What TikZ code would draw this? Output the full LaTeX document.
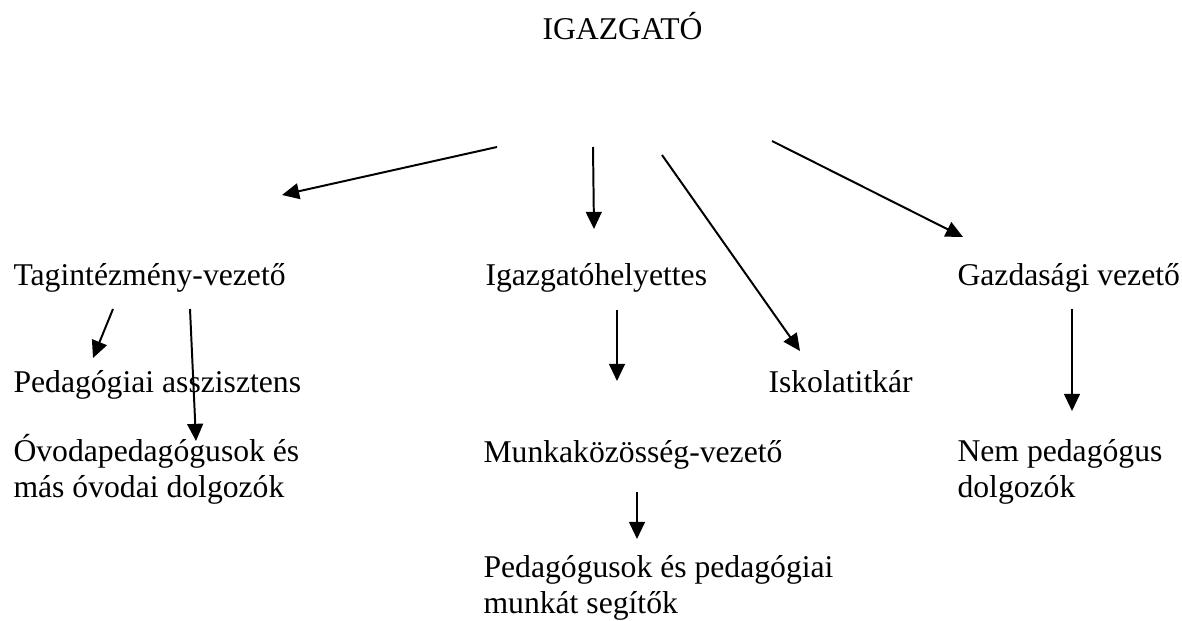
\documentclass[tikz,border=0pt]{standalone}
\usepackage{fontspec}
\setmainfont{Liberation Serif}
\usetikzlibrary{arrows.meta}

\begin{document}
\begin{tikzpicture}[x=0.379pt,y=-0.379pt,
    lbl/.style={anchor=base west,inner sep=0pt,align=left,
      font=\fontsize{12}{13.3}\selectfont},
    arr/.style={-{Triangle[length=6.5pt,width=6pt]},line width=0.75pt}]
  \useasboundingbox (0,0) rectangle (1182,620);

  \def\rowa{285}
  \def\rowb{392}
  \def\rowc{462}
  \def\rowd{578}
  \def\lsk{35}

  \path node (igazgato) at (542,40) [lbl] {IGAZGATÓ};

  \path node (tagint) at (13,\rowa) [lbl] {Tagintézmény-vezető};
  \path node (helyettes) at (485,\rowa) [lbl] {Igazgatóhelyettes};
  \path node (gazd) at (957,\rowa) [lbl] {Gazdasági vezető};

  \path node (asszisztens) at (13,\rowb) [lbl] {Pedagógiai asszisztens};
  \path node (titkar) at (768,\rowb) [lbl] {Iskolatitkár};

  \path node (ovoda) at (13,\rowc+\lsk) [lbl]
        {Óvodapedagógusok és\\más óvodai dolgozók};
  \path node (mkvez) at (483,\rowc) [lbl] {Munkaközösség-vezető};
  \path node (nempedag) at (957,\rowc+\lsk) [lbl]
        {Nem pedagógus\\dolgozók};

  \path node (pedagogusok) at (483,\rowd+\lsk) [lbl]
        {Pedagógusok és pedagógiai\\munkát segítők};

  \coordinate (i1) at (497,147);
  \coordinate (i2) at (593,147);
  \coordinate (i3) at (662,155);
  \coordinate (i4) at (772,141);
  \coordinate (t1) at (282,195);
  \coordinate (t2) at (594,229);
  \coordinate (t3) at (800,351);
  \coordinate (t4) at (963,237);

  \draw[arr] (i1) -- (t1);
  \draw[arr] (i2) -- (t2);
  \draw[arr] (i3) -- (t3);
  \draw[arr] (i4) -- (t4);

  \coordinate (ta) at (113,309);
  \coordinate (tb) at (190,309);
  \coordinate (ha) at (617,310);
  \coordinate (ga) at (1072,309);
  \coordinate (ma) at (637,492);

  \draw[arr] (ta) -- (93,358);
  \draw[arr] (tb) -- (196,441);
  \draw[arr] (ha) -- (617,381);
  \draw[arr] (ga) -- (1072,411);
  \draw[arr] (ma) -- (637,539);
\end{tikzpicture}
\end{document}
